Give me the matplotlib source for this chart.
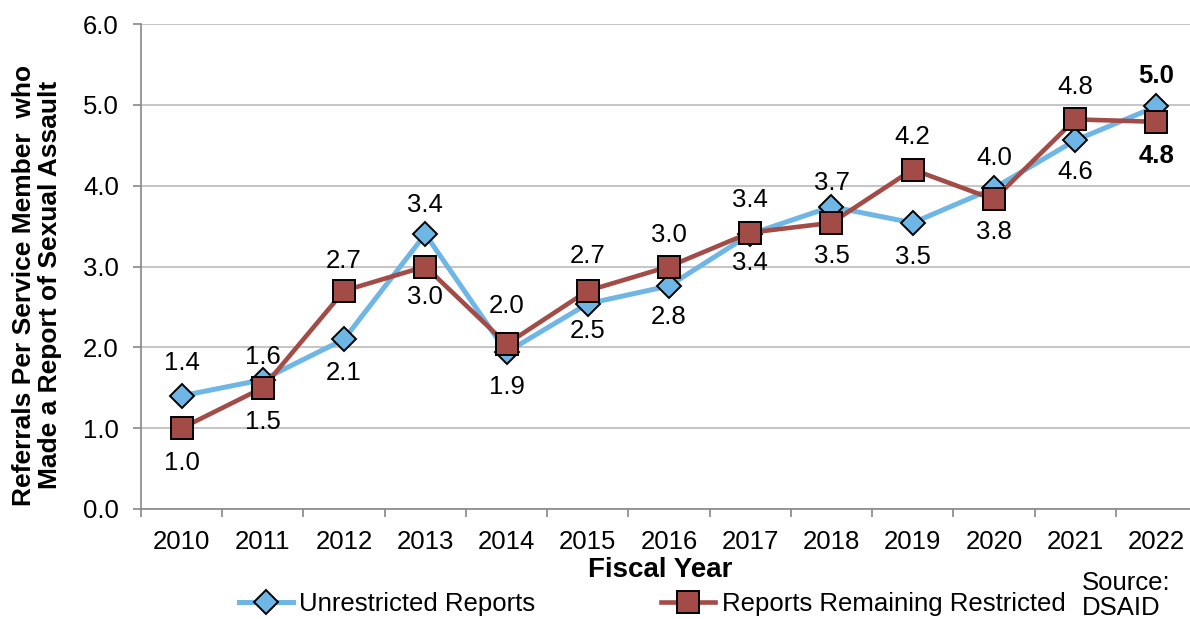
import matplotlib
matplotlib.use("Agg")
import matplotlib.pyplot as plt

plt.rcParams['font.family'] = ['Liberation Sans', 'DejaVu Sans']

years = ['2010', '2011', '2012', '2013', '2014', '2015', '2016', '2017', '2018', '2019', '2020', '2021', '2022']
unrestricted = [1.40, 1.60, 2.10, 3.40, 1.94, 2.54, 2.76, 3.40, 3.74, 3.54, 3.97, 4.56, 4.98]
restricted = [1.00, 1.50, 2.70, 3.00, 2.04, 2.70, 3.00, 3.42, 3.54, 4.20, 3.83, 4.82, 4.79]
yticks = [0.0, 1.0, 2.0, 3.0, 4.0, 5.0, 6.0]

# label vertical offsets (pixels; + above, - below)
unres_off = [33, 23, -34, 29, -35, -27, -31, -29, 24, -34, 30, -32, 30]
res_off = [-35, -34, 30, -30, 38, 35, 31, 33, -33, 32, -33, 32, -34]

BLUE = '#6DB6E6'
RED = '#A24B47'
FS = 18.5

fig = plt.figure(figsize=(11.9, 6.19), dpi=100)
ax = fig.add_axes([141/1190, 1 - 509/619, (1197-141)/1190, (509-24)/619])

x = list(range(len(years)))
ax.plot(x, unrestricted, color=BLUE, lw=3.6, marker='D', ms=12, mfc=BLUE, mec='black', mew=1.4, zorder=3,
        label='Unrestricted Reports')
ax.plot(x, restricted, color=RED, lw=3.3, marker='s', ms=16, mfc=RED, mec='black', mew=1.4, zorder=4,
        label='Reports Remaining Restricted')

last = len(years) - 1
for i, (v, o) in enumerate(zip(unrestricted, unres_off)):
    ax.annotate(f'{v:.1f}', (i, v), xytext=(0, o * 0.72), textcoords='offset points', ha='center', va='center',
                fontsize=FS, fontweight='bold' if i == last else 'normal', zorder=5)
for i, (v, o) in enumerate(zip(restricted, res_off)):
    ax.annotate(f'{v:.1f}', (i, v), xytext=(0, o * 0.72), textcoords='offset points', ha='center', va='center',
                fontsize=FS, fontweight='bold' if i == last else 'normal', zorder=5)

ax.set_xlim(-0.5, len(years) - 0.5)
ax.set_ylim(0, 6)
ax.set_yticks(yticks)
ax.set_yticklabels([f'{t:.1f}' for t in yticks], fontsize=FS)
ax.set_xticks(x)
ax.set_xticklabels(years, fontsize=FS)
ax.set_xticks([i - 0.5 for i in range(len(years) + 1)], minor=True)
ax.tick_params(axis='x', which='major', length=0, pad=15)
ax.tick_params(axis='x', which='minor', length=6, color='#888888', width=1.2)
ax.tick_params(axis='y', length=6, color='#888888', width=1.2, pad=10)
ax.grid(axis='y', color='#BBBBBB', lw=1.2)
ax.set_axisbelow(True)
for s in ['top', 'right']:
    ax.spines[s].set_visible(False)
for s in ['left', 'bottom']:
    ax.spines[s].set_color('#888888')
    ax.spines[s].set_linewidth(1.2)

fig.text(660/1190, 1 - 570/619, 'Fiscal Year', fontsize=20, fontweight='bold', ha='center', va='center')
fig.text(37/1190, 1 - 285/619, 'Referrals Per Service Member  who\nMade a Report of Sexual Assault',
         fontsize=19, fontweight='bold', rotation=90, ha='center', va='center', linespacing=1.08,
         multialignment='center')

fig.legend(loc='center', bbox_to_anchor=(652/1190, 1 - 604/619), ncol=2, frameon=False, fontsize=FS,
           handlelength=2.1, columnspacing=4.9, handletextpad=0.25, borderaxespad=0, borderpad=0)
fig.text(1082/1190, 1 - 583/619, 'Source:', fontsize=FS, va='center', ha='left')
fig.text(1082/1190, 1 - 608/619, 'DSAID', fontsize=FS, va='center', ha='left')

fig.savefig('out.png', dpi=100)
